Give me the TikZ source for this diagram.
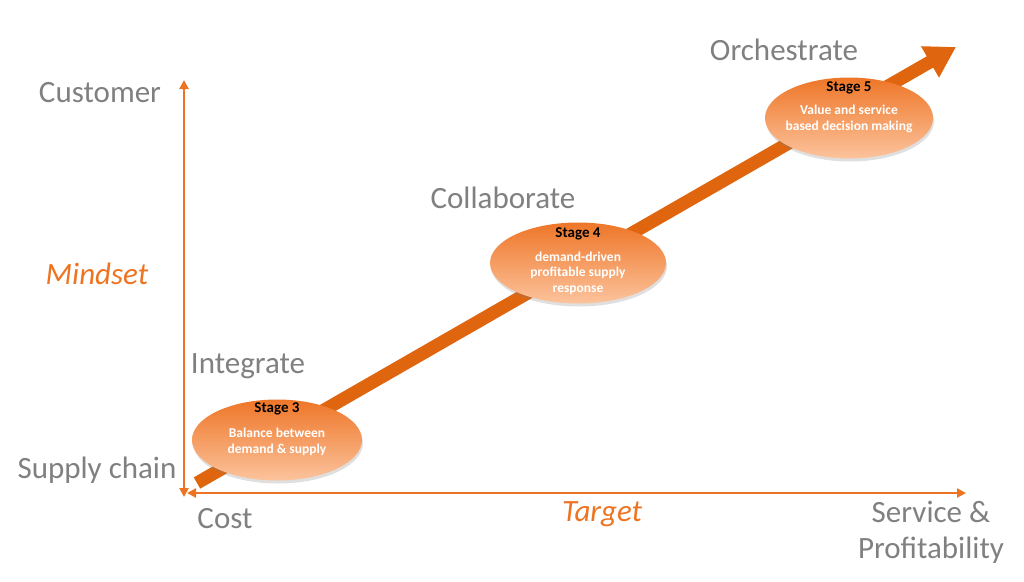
\documentclass[tikz,border=0pt]{standalone}
\usepackage{fontspec}
\setmainfont{Carlito}
\usetikzlibrary{arrows.meta, shapes.geometric, shadows, positioning}
\definecolor{axisorange}{HTML}{ED7422}
\definecolor{darkorange}{HTML}{E0650F}
\definecolor{stagetop}{HTML}{EE7628}
\definecolor{stagebottom}{HTML}{FCC39C}
\definecolor{labelgray}{HTML}{808080}

\tikzset{
  biglabel/.style={text=labelgray, font=\fontsize{31}{36}\selectfont, inner sep=0pt},
  axislabel/.style={text=axisorange, font=\fontsize{31}{36}\selectfont\itshape, inner sep=0pt},
  axisline/.style={draw=axisorange, line width=2.5pt, {Triangle[length=9pt,width=9pt]}-{Triangle[length=9pt,width=9pt]}},
  stagebox/.style={ellipse, minimum width=170pt, minimum height=81pt, inner sep=0pt,
    top color=stagetop, bottom color=stagebottom,
    drop shadow={shadow xshift=1pt, shadow yshift=-3pt, opacity=0.25}},
  stagetitle/.style={inner sep=0pt, font=\fontsize{15}{17}\selectfont\bfseries, text=black},
  stagetext/.style={align=center, inner sep=0pt, font=\fontsize{13.5}{15.5}\selectfont\bfseries, text=white}
}

\begin{document}
\begin{tikzpicture}[x=1pt, y=-1pt]
\useasboundingbox (0,0) rectangle (1024,581);
% axes
\coordinate (origin) at (184,493);
\coordinate (ytop) at (184,80);
\coordinate (xend) at (966,493);
\draw[axisline] ([yshift=-4pt]origin) -- (ytop);
\draw[axisline] ([xshift=3pt]origin) -- (xend);
% diagonal progress arrow
\coordinate (tail) at (197,483);
\coordinate (tip) at (956,47);
\draw[darkorange, line width=13pt, -{Triangle[length=30pt,width=34pt]}] (tail) -- (tip);
% stages
\node[stagebox] (stage3) at (277,440) {};
\node[stagebox, minimum width=176pt] (stage4) at (578,263) {};
\node[stagebox, minimum width=168pt] (stage5) at (849,118) {};
\node[stagetitle] (title3) at (277,409) {Stage 3};
\node[stagetext] (body3) at (277,442) {Balance between\\demand \& supply};
\node[stagetitle] (title4) at (578,234) {Stage 4};
\node[stagetext] (body4) at (578,273) {demand-driven\\profitable supply\\response};
\node[stagetitle] (title5) at (849,88) {Stage 5};
\node[stagetext] (body5) at (849,119) {Value and service\\based decision making};
% level labels
\node[biglabel] (customer) at (100,93) {Customer};
\node[biglabel] (supply) at (97,470) {Supply chain};
\node[axislabel] (mindset) at (97,274) {Mindset};
\node[biglabel] (integrate) at (248,366) {Integrate};
\node[biglabel] (collaborate) at (503,198) {Collaborate};
\node[biglabel] (orchestrate) at (784,50) {Orchestrate};
\node[biglabel] (cost) at (225,519) {Cost};
\node[axislabel] (target) at (602,514) {Target};
\node[biglabel, align=center, font=\fontsize{31}{36}\selectfont] (service) at (931,532) {Service \&\\Profitability};
\end{tikzpicture}
\end{document}
